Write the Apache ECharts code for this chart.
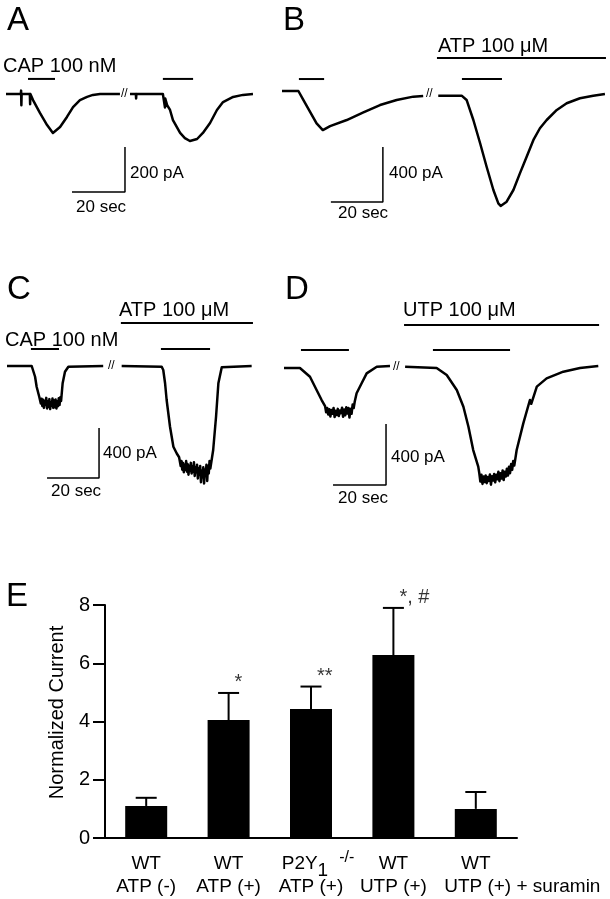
<!DOCTYPE html>
<html><head><meta charset="utf-8">
<script src="https://cdn.jsdelivr.net/npm/echarts@6/dist/echarts.min.js"></script>
<style>html,body{margin:0;padding:0;background:#fff}#c{width:610px;height:899px}</style>
</head><body><div id="c"></div>
<script>
// ---------- DATA (time in s, current in pA; inward current negative) ----------
// Panel A: CAP 100 nM, two applications
const traceA1 = [[0,0],[4.5,0],[5.6,0],[5.7,15],[5.8,-50],[5.9,0],[9.0,0],[9.1,-45],[9.2,0],[10.2,-27],[12.8,-84],[15.5,-138],[17.7,-173],[20.4,-147],[23.0,-102],[25.3,-58],[27.9,-27],[30.6,-13],[32.8,-4],[35.5,0],[43.0,0]];
const traceA2 = [[46.8,0],[49.0,0],[49.1,-20],[49.2,0],[59.2,0],[60.0,-60],[60.1,-20],[60.8,-49],[61.9,-71],[63.0,-116],[65.7,-173],[67.5,-196],[69.4,-209],[72.1,-200],[74.3,-173],[77.0,-129],[79.6,-71],[81.9,-36],[85.7,-13],[89.4,-4],[93.2,0]];
const drugA = [[8.3,18.5,67],[59.2,70.6,67]];
const scaleA = {t:24.9, i:-436, dt:20, di:200};

// Panel B: CAP, then CAP in ATP 100 uM
const traceB1 = [[0,0],[6.3,0],[8.2,-65],[10.8,-151],[13.3,-235],[15.7,-284],[18.5,-255],[24.9,-211],[31.3,-155],[37.7,-102],[44.1,-65],[50.5,-41],[54.3,-36]];
const traceB2 = [[60.1,-34],[69.1,-34],[71.0,-65],[73.6,-211],[76.2,-380],[78.7,-551],[81.3,-720],[83.2,-817],[84.1,-836],[86.4,-805],[89.0,-720],[91.5,-599],[94.1,-478],[96.7,-356],[99.2,-271],[101.8,-211],[105.7,-138],[109.5,-89],[114.6,-53],[119.7,-34],[124.2,-22]];
const drugB = [[6.5,16.2,87],[69.2,84.6,87],[59.6,124.6,240]];
const scaleB = {t:18.8, i:-807, dt:20, di:400};

// Panel C
const traceC1 = [[0,0],[9.5,0],[10.8,-86],[11.4,-166],[12.4,-246],[13.0,-300],[13.3,-262],[13.6,-320],[13.9,-270],[14.2,-335],[14.5,-280],[14.8,-310],[15.1,-255],[15.4,-340],[15.7,-285],[16.0,-325],[16.3,-265],[16.6,-345],[16.9,-290],[17.2,-318],[17.5,-260],[17.8,-335],[18.1,-275],[18.4,-330],[18.7,-268],[19.0,-340],[19.3,-282],[19.6,-322],[19.9,-258],[20.2,-312],[20.5,-250],[20.8,-280],[21.4,-138],[22.3,-46],[23.6,-6],[37.0,0]];
const traceC2 = [[44.1,0],[59.5,-6],[60.1,-32],[60.8,-138],[61.4,-272],[62.7,-486],[64.0,-646],[65.3,-700],[66.2,-730],[66.5,-740],[66.8,-800],[67.1,-760],[67.4,-830],[67.7,-775],[68.0,-850],[68.3,-790],[68.6,-830],[68.9,-760],[69.2,-845],[69.5,-785],[69.8,-870],[70.1,-800],[70.4,-840],[70.7,-775],[71.0,-860],[71.3,-805],[71.6,-845],[71.9,-770],[72.2,-880],[72.5,-810],[72.8,-850],[73.1,-790],[73.4,-900],[73.7,-820],[74.0,-870],[74.3,-800],[74.6,-930],[74.9,-840],[75.2,-890],[75.5,-810],[75.8,-940],[76.1,-830],[76.4,-880],[76.7,-790],[77.0,-920],[77.3,-800],[77.6,-860],[77.9,-760],[78.2,-820],[79.3,-672],[80.4,-406],[81.3,-138],[82.6,-10],[94.1,0]];
const drugC = [[9.2,20.0,136],[59.2,78.1,136],[43.8,94.6,344]];
const scaleC = {t:15.4, i:-896, dt:20, di:400};

// Panel D
const traceD1 = [[0,0],[6.0,0],[9.8,-57],[12.3,-144],[14.2,-210],[15.5,-250],[15.9,-290],[16.3,-262],[16.7,-305],[17.1,-270],[17.5,-318],[17.9,-275],[18.3,-300],[18.7,-262],[19.1,-322],[19.5,-280],[19.9,-308],[20.3,-268],[20.7,-315],[21.1,-278],[21.5,-296],[21.9,-260],[22.3,-320],[22.7,-272],[23.1,-310],[23.5,-258],[23.9,-298],[24.3,-262],[24.7,-325],[25.1,-268],[25.5,-300],[25.9,-240],[26.3,-262],[26.7,-220],[27.4,-166],[29.3,-100],[31.2,-35],[35.0,8],[40.0,13]];
const traceD2 = [[45.7,9],[57.6,0],[61.4,-46],[65.2,-144],[67.7,-254],[69.6,-385],[71.4,-538],[73.3,-647],[73.7,-690],[74.1,-745],[74.5,-700],[74.9,-760],[75.3,-712],[75.7,-748],[76.1,-705],[76.5,-755],[76.9,-715],[77.3,-740],[77.7,-698],[78.1,-765],[78.5,-710],[78.9,-738],[79.3,-695],[79.7,-750],[80.1,-700],[80.5,-730],[80.9,-680],[81.3,-742],[81.7,-690],[82.1,-725],[82.5,-672],[82.9,-735],[83.3,-680],[83.7,-712],[84.1,-660],[84.5,-705],[84.9,-648],[85.3,-690],[85.7,-630],[86.1,-668],[86.5,-610],[86.9,-640],[87.8,-538],[90.3,-363],[92.8,-210],[93.3,-235],[95.4,-122],[99.1,-68],[105.4,-24],[111.7,0],[118.6,13]];
const drugD = [[6.4,24.5,118],[56.2,85.3,118],[45.3,118.9,282]];
const scaleD = {t:18.5, i:-767, dt:20, di:400};

// Panel E: normalized current bar chart
const catLine1 = ['WT','WT','P2Y1 -/-','WT','WT'];
const catLine2 = ['ATP (-)','ATP (+)','ATP (+)','UTP (+)','UTP (+) + suramin'];
const meanCurrent = [1.10, 4.05, 4.43, 6.28, 1.00];
const semCurrent = [0.28, 0.93, 0.77, 1.62, 0.58];
const significance = ['', '*', '**', '*, #', ''];
const yTicks = [0, 2, 4, 6, 8];

// ---------- LAYOUT ----------
const FONT = '"Liberation Sans", Arial, Helvetica, sans-serif';
const panels = [
  {rect:{left:0,top:0,width:280,height:240}, x0:6, y0:94, pps:2.65, ppa:0.225, segs:[traceA1,traceA2], drug:drugA, scale:scaleA},
  {rect:{left:280,top:0,width:330,height:240}, x0:282, y0:91, pps:2.6, ppa:0.1375, segs:[traceB1,traceB2], drug:drugB, scale:scaleB},
  {rect:{left:0,top:250,width:280,height:260}, x0:7, y0:366, pps:2.6, ppa:0.125, segs:[traceC1,traceC2], drug:drugC, scale:scaleC},
  {rect:{left:280,top:250,width:330,height:260}, x0:284, y0:368, pps:2.65, ppa:0.1525, segs:[traceD1,traceD2], drug:drugD, scale:scaleD}
];

const grids = [], xAxes = [], yAxes = [], series = [];
panels.forEach((p, k) => {
  const r = p.rect;
  grids.push({left:r.left, top:r.top, width:r.width, height:r.height, show:false, containLabel:false});
  xAxes.push({type:'value', gridIndex:k, show:false, min:(r.left - p.x0)/p.pps, max:(r.left + r.width - p.x0)/p.pps});
  yAxes.push({type:'value', gridIndex:k, show:false, max:(p.y0 - r.top)/p.ppa, min:-(r.top + r.height - p.y0)/p.ppa});
  p.segs.forEach(seg => series.push({type:'line', xAxisIndex:k, yAxisIndex:k, data:seg, symbol:'none', silent:true,
    lineStyle:{color:'#000', width:2.5, join:'round'}}));
  p.drug.forEach(d => series.push({type:'line', xAxisIndex:k, yAxisIndex:k, data:[[d[0],d[2]],[d[1],d[2]]], symbol:'none', silent:true,
    lineStyle:{color:'#000', width:2}}));
  const s = p.scale;
  series.push({type:'line', xAxisIndex:k, yAxisIndex:k, data:[[s.t,s.i],[s.t+s.dt,s.i],[s.t+s.dt,s.i+s.di]], symbol:'none', silent:true,
    lineStyle:{color:'#000', width:1.5}});
});

// bar chart grid
const E = 4;
grids.push({left:105, top:605, width:412, height:233, show:false});
xAxes.push({type:'category', gridIndex:E, data:catLine1.map((l,i)=>l+'\n'+catLine2[i]),
  axisLine:{lineStyle:{color:'#000', width:2}}, axisTick:{show:false},
  axisLabel:{interval:0, margin:14, color:'#000', fontFamily:FONT, fontSize:19, lineHeight:23,
    formatter:(v, i) => {
      let l1 = catLine1[i], l2 = catLine2[i];
      const m = /^P2Y1 (.*)$/.exec(l1);
      if (m) l1 = '{n|P2Y}{sub|1}{sup|' + m[1] + '}';
      if (l2.indexOf(' + ') > 0) l2 = '{pad| }' + l2;
      return l1 + '\n' + l2;
    },
    rich:{
      n:{fontSize:19, lineHeight:23, fontFamily:FONT, color:'#000', padding:[0,0,0,14]},
      sub:{fontSize:19, lineHeight:23, fontFamily:FONT, color:'#000', padding:[15,0,0,0]},
      sup:{fontSize:16, lineHeight:23, fontFamily:FONT, color:'#000', padding:[0,0,12,11]},
      pad:{width:93, lineHeight:23, fontSize:19}
    }}
});
yAxes.push({type:'value', gridIndex:E, min:yTicks[0], max:yTicks[yTicks.length-1], interval:yTicks[1]-yTicks[0],
  axisLine:{show:true, lineStyle:{color:'#000', width:2}},
  axisTick:{show:true, length:12, lineStyle:{color:'#000', width:2}},
  splitLine:{show:false},
  axisLabel:{color:'#000', fontFamily:FONT, fontSize:20, margin:15},
  name:'Normalized Current', nameLocation:'middle', nameGap:34,
  nameTextStyle:{color:'#000', fontFamily:FONT, fontSize:20, padding:[0,0,0,18]}
});
series.push({type:'bar', xAxisIndex:E, yAxisIndex:E, data:meanCurrent, barWidth:42, silent:true,
  itemStyle:{color:'#000'}});
series.push({type:'custom', xAxisIndex:E, yAxisIndex:E, silent:true, z:3,
  data:meanCurrent.map((m,i)=>[i, m, m + semCurrent[i]]),
  renderItem:(params, api) => {
    const b = api.coord([api.value(0), api.value(1)]);
    const t = api.coord([api.value(0), api.value(2)]);
    const hw = 10.5;
    return {type:'group', children:[
      {type:'line', shape:{x1:b[0], y1:b[1], x2:t[0], y2:t[1]}, style:{stroke:'#000', lineWidth:2}},
      {type:'line', shape:{x1:t[0]-hw, y1:t[1], x2:t[0]+hw, y2:t[1]}, style:{stroke:'#000', lineWidth:2}}
    ]};
  }});
series.push({type:'scatter', xAxisIndex:E, yAxisIndex:E, silent:true, symbolSize:0,
  data:meanCurrent.map((m,i)=>[i, m + semCurrent[i]]),
  label:{show:true, position:'top', distance:2, align:'left', offset:[6,2], color:'#000', fontFamily:FONT, fontSize:20,
    formatter:p => significance[p.dataIndex]}});

// ---------- TEXT ----------
const txt = (text, x, y, size) => ({type:'text', x:x, y:y, silent:true,
  style:{text:text, fontSize:size, fontFamily:FONT, fill:'#000', align:'left', verticalAlign:'middle', textAlign:'left', textVerticalAlign:'middle'}});
const lbl = s => s.di + ' pA';
const graphics = [
  txt('A', 7, 21, 33), txt('CAP 100 nM', 3, 66.5, 20), txt(lbl(scaleA), 130, 173, 17), txt(scaleA.dt + ' sec', 76, 207, 17), txt('//', 121, 94, 12),
  txt('B', 283, 21, 33), txt('ATP 100 μM', 438, 46.5, 20), txt(lbl(scaleB), 389, 173, 17), txt(scaleB.dt + ' sec', 338, 213, 17), txt('//', 426, 94, 12),
  txt('C', 7, 290, 33), txt('ATP 100 μM', 119, 310, 20), txt('CAP 100 nM', 5, 340, 20), txt(lbl(scaleC), 103, 453, 17), txt(scaleC.dt + ' sec', 51, 491, 17), txt('//', 108, 366, 12),
  txt('D', 285, 290, 33), txt('UTP 100 μM', 403, 310, 20), txt(lbl(scaleD), 391, 457, 17), txt(scaleD.dt + ' sec', 338, 498, 17), txt('//', 393, 367, 12),
  txt('E', 6, 597, 33)
];

const chart = echarts.init(document.getElementById('c'), null, {renderer:'canvas'});
chart.setOption({
  animation:false, backgroundColor:'#fff',
  grid:grids, xAxis:xAxes, yAxis:yAxes, series:series, graphic:{elements:graphics}
});
</script></body></html>
